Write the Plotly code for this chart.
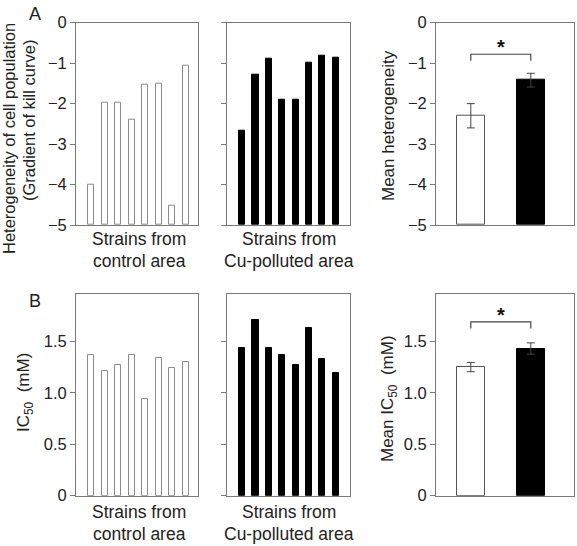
import plotly.graph_objects as go

# ---------------- data ----------------
strains = list(range(1, 9))
het_control = [-4.0, -1.97, -1.97, -2.4, -1.53, -1.5, -4.53, -1.07]
het_cu = [-2.67, -1.28, -0.88, -1.9, -1.9, -1.0, -0.82, -0.87]
ic50_control = [1.37, 1.21, 1.27, 1.37, 0.94, 1.34, 1.24, 1.30]
ic50_cu = [1.44, 1.71, 1.44, 1.37, 1.27, 1.63, 1.33, 1.19]

groups = ["Control", "Cu-polluted"]
het_mean = [-2.3, -1.42]
het_err = [0.3, 0.17]
ic50_mean = [1.25, 1.43]
ic50_err = [0.045, 0.055]

het_ticks = [0, -1, -2, -3, -4, -5]
ic50_ticks = [0, 0.5, 1.0, 1.5]
ic50_ticklabels = ["0", "0.5", "1.0", "1.5"]

het_floor = -5
het_bracket = (-0.78, -0.94, -0.60)   # bracket line, tick end, star
ic50_bracket = (1.69, 1.625, 1.755)

# ---------------- style ----------------
FONT = "Liberation Sans, Arial, sans-serif"
TXT = "#222222"
FRAME = "#7a7a7a"
W, H = 577, 546

def px(x):
    return x / W

def py(y):
    return 1 - y / H

fig = go.Figure()

xdom = [[px(76), px(198)], [px(227), px(350)], [px(436), px(574)]]
ydomA = [py(225), py(22.7)]
ydomB = [py(495.7), py(294)]
xranges = [[-1.13, 7.91], [-1.14, 8.07], [-0.58, 1.72]]

idx = [i - 1 for i in strains]

def add_bars(xa, ya, vals, fill, line, base=None, width=0.45):
    if base is not None:
        yv = [v - base for v in vals]
    else:
        yv = vals
    fig.add_trace(go.Bar(
        x=idx, y=yv, base=base, width=width,
        marker=dict(color=fill, line=dict(color=line, width=1)),
        xaxis=xa, yaxis=ya, showlegend=False, hoverinfo="skip"))

# panel A
add_bars("x", "y", het_control, "white", "#8a8a8a", base=het_floor)
add_bars("x2", "y2", het_cu, "black", "black", base=het_floor, width=0.47)
# panel B
add_bars("x4", "y4", ic50_control, "white", "#8a8a8a")
add_bars("x5", "y5", ic50_cu, "black", "black", width=0.47)

# means
for xa, ya, means, errs, base in [("x3", "y3", het_mean, het_err, het_floor),
                                  ("x6", "y6", ic50_mean, ic50_err, None)]:
    for i in range(2):
        yv = means[i] - base if base is not None else means[i]
        fig.add_trace(go.Bar(
            x=[i], y=[yv], base=base, width=0.47,
            marker=dict(color=["white", "black"][i], line=dict(color=["#555555", "black"][i], width=1)),
            error_y=dict(type="data", array=[errs[i]], visible=True, color="#444444", thickness=1, width=4),
            xaxis=xa, yaxis=ya, showlegend=False, hoverinfo="skip"))

# axes
def xax(dom, rng, anchor):
    return dict(domain=dom, range=rng, anchor=anchor, showticklabels=False, ticks="",
                showgrid=False, zeroline=False, showline=True, mirror=True, automargin=False,
                linecolor=FRAME, linewidth=1, fixedrange=True)

def yax(dom, rng, anchor, tickvals, ticktext, labels=True):
    return dict(domain=dom, range=rng, anchor=anchor, tickvals=tickvals, ticktext=ticktext,
                showticklabels=labels, ticks="outside", ticklen=5, tickcolor=FRAME, tickwidth=1,
                showgrid=False, zeroline=False, showline=True, mirror=True, automargin=False,
                linecolor=FRAME, linewidth=1, fixedrange=True,
                tickfont=dict(family=FONT, size=16.5, color=TXT))

het_text = ["0" if v == 0 else "\u2212" + str(abs(v)) for v in het_ticks]
layout = dict(
    width=W, height=H, margin=dict(l=0, r=0, t=0, b=0, autoexpand=False),
    paper_bgcolor="white", plot_bgcolor="white", bargap=0,
    font=dict(family=FONT, color=TXT),
    xaxis=xax(xdom[0], xranges[0], "y"),
    xaxis2=xax(xdom[1], xranges[1], "y2"),
    xaxis3=xax(xdom[2], xranges[2], "y3"),
    xaxis4=xax(xdom[0], xranges[0], "y4"),
    xaxis5=xax(xdom[1], xranges[1], "y5"),
    xaxis6=xax(xdom[2], xranges[2], "y6"),
    yaxis=yax(ydomA, [-5, 0], "x", het_ticks, het_text),
    yaxis2=yax(ydomA, [-5, 0], "x2", het_ticks, het_text, labels=False),
    yaxis3=yax(ydomA, [-5, 0], "x3", het_ticks, het_text),
    yaxis4=yax(ydomB, [0, 1.96], "x4", ic50_ticks, ic50_ticklabels),
    yaxis5=yax(ydomB, [0, 1.96], "x5", ic50_ticks, ic50_ticklabels, labels=False),
    yaxis6=yax(ydomB, [0, 1.96], "x6", ic50_ticks, ic50_ticklabels),
)
fig.update_layout(**layout)

# significance brackets
for xa, ya, br in [("x3", "y3", het_bracket), ("x6", "y6", ic50_bracket)]:
    yl, yt, ys = br
    fig.add_shape(type="path", path=f"M 0,{yt} L 0,{yl} L 1,{yl} L 1,{yt}",
                  xref=xa, yref=ya, line=dict(color="#444444", width=1.2))
    fig.add_annotation(x=0.5, y=ys, xref=xa, yref=ya, text="<b>*</b>", showarrow=False,
                       font=dict(family=FONT, size=20, color="#111111"), yanchor="middle")

# text annotations (paper coordinates)
def ann(x, y, text, size=17.5, angle=0):
    fig.add_annotation(x=px(x), y=py(y), xref="paper", yref="paper", text=text,
                       showarrow=False, textangle=angle, xanchor="center", yanchor="middle",
                       font=dict(family=FONT, size=size, color=TXT))

ann(35, 14, "A", size=18)
ann(35, 301, "B", size=18)
ann(9, 139, "Heterogeneity of cell population", size=16.5, angle=-90)
ann(29, 121, "(Gradient of kill curve)", size=16.5, angle=-90)
ann(25, 393, "IC<sub>50</sub>  (mM)", size=17, angle=-90)
ann(388, 126, "Mean heterogeneity", size=17, angle=-90)
ann(389, 399, "Mean IC<sub>50</sub>  (mM)", size=17, angle=-90)

ann(139, 239, "Strains from")
ann(139, 261, "control area")
ann(289, 239, "Strains from")
ann(289, 261, "Cu-polluted area")
ann(139, 512, "Strains from")
ann(139, 534, "control area")
ann(289, 512, "Strains from")
ann(289, 534, "Cu-polluted area")

# remove the page's default 8px body margin so the figure fills the window exactly
fig.write_html("out.html", config={"displayModeBar": False},
               post_script="document.body.style.margin='0px';document.body.style.overflow='hidden';")
